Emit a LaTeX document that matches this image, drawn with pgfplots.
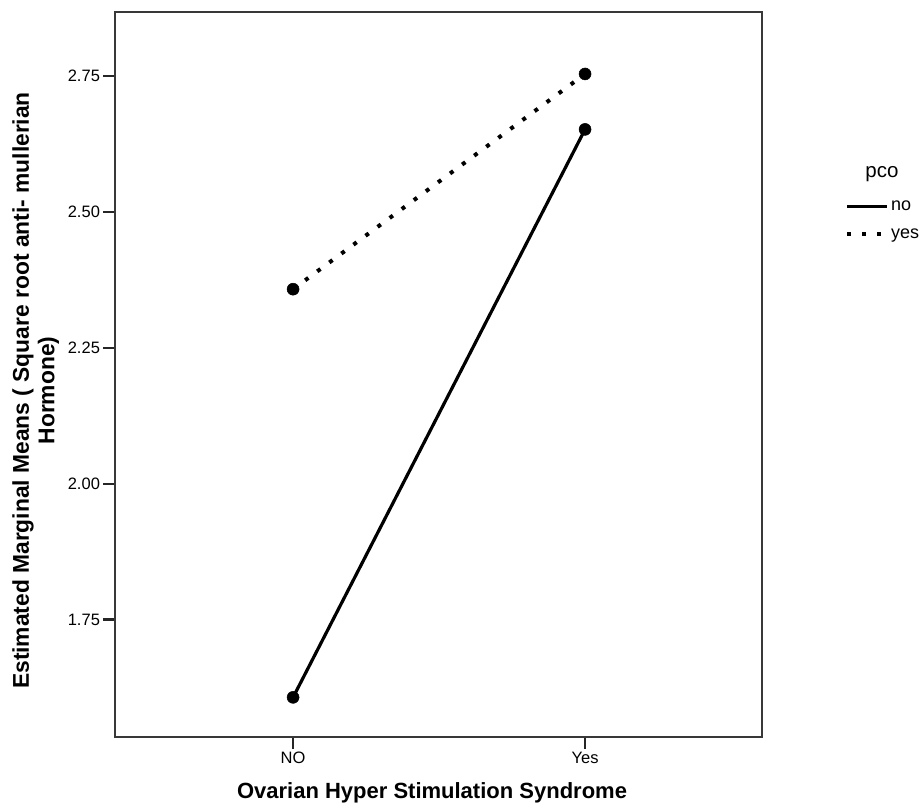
\documentclass[border=0pt]{standalone}
\usepackage{pgfplots}
\pgfplotsset{compat=1.18}
\usepackage{fontspec}
\setmainfont{Liberation Sans}

\begin{document}
\begin{tikzpicture}
\begin{axis}[
 scale only axis, width=647pt, height=725pt,
 clip=false,
 xmin=-0.61, xmax=1.606, ymin=1.534, ymax=2.868,
 xtick={0,1}, xticklabels={NO,Yes},
 ytick={1.75,2.00,2.25,2.50,2.75},
 yticklabel style={/pgf/number format/fixed, /pgf/number format/fixed zerofill, /pgf/number format/precision=2},
 /pgf/number format/assume math mode=true,
 tick align=outside, xtick pos=bottom, ytick pos=left,
 major tick length=11.5pt,
 tick style={line width=2.4pt, color=black!85},
 axis line style={line width=1.8pt, color=black!78},
 ticklabel style={font=\fontsize{16.5}{19}\selectfont},
 xlabel={Ovarian Hyper Stimulation Syndrome},
 ylabel={Estimated Marginal Means ( Square root anti- mullerian\\Hormone)},
 label style={font=\bfseries\fontsize{22}{25}\selectfont},
 ylabel style={align=center, at={(rel axis cs:-0.159,0.478)}, anchor=north, inner sep=0pt, font=\bfseries\fontsize{22.8}{25.5}\selectfont},
 xlabel style={at={(rel axis cs:0.49,-0.062)}, anchor=north, inner sep=0pt},
 legend style={at={(rel axis cs:1.128,0.742)}, anchor=north west, draw=none, fill=none, inner sep=0pt, row sep=12pt, font=\fontsize{18}{20}\selectfont},
 legend cell align=left,
 legend image code/.code={\draw[#1, mark=none] (0pt,0pt) -- (40pt,0pt);},
]
\addplot[black, line width=3.2pt, mark=*, mark size=6pt, mark options={solid, fill=black, line width=0.5pt}] coordinates {(0,1.607) (1,2.652)};
\addlegendentry{no}
\addplot[black, line width=4pt, line cap=butt, dash pattern=on 4pt off 11pt, mark=*, mark size=6pt, mark options={solid, fill=black, line width=0.5pt}] coordinates {(0,2.358) (1,2.754)};
\addlegendentry{yes}
\node[font=\fontsize{20.5}{22}\selectfont] at (rel axis cs:1.1855,0.776) {pco};
\coordinate (bbll) at (rel axis cs:-0.1777,-0.091);
\coordinate (bbur) at (rel axis cs:1.2473,1.01655);
\end{axis}
\pgfresetboundingbox
\useasboundingbox (bbll) rectangle (bbur);
\end{tikzpicture}
\end{document}
